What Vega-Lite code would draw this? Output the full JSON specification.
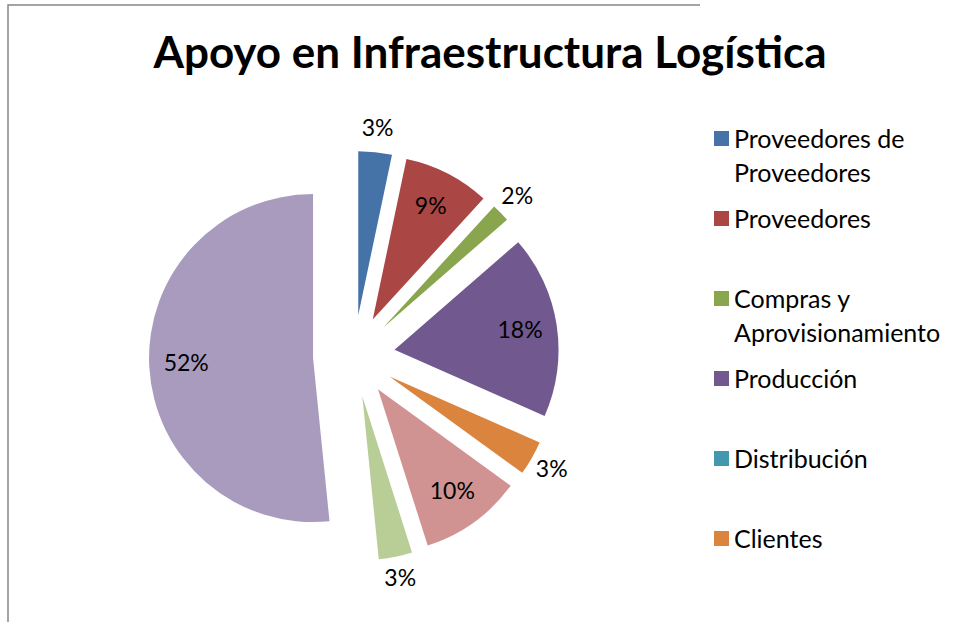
{
  "$schema": "https://vega.github.io/schema/vega-lite/v6.json",
  "autosize": "none",
  "width": 692,
  "height": 702,
  "padding": {"left": 8, "top": 5, "right": 265, "bottom": 0},
  "background": "white",
  "view": {"stroke": "#868686", "strokeWidth": 1.5, "strokeDash": [692, 1394, 720]},
  "title": {
    "text": "Apoyo en Infraestructura Logística",
    "font": "Lato",
    "fontSize": 44,
    "fontWeight": "bold",
    "color": "black",
    "anchor": "middle",
    "frame": "group",
    "dx": 136,
    "offset": -107,
    "baseline": "alphabetic"
  },
  "data": {
    "values": [
      {"categoria": "Proveedores de Proveedores", "share": 0.033},
      {"categoria": "Proveedores", "share": 0.085},
      {"categoria": "Compras y Aprovisionamiento", "share": 0.018},
      {"categoria": "Producción", "share": 0.18},
      {"categoria": "Distribución", "share": 0},
      {"categoria": "Clientes", "share": 0.034},
      {"categoria": "Categoría 7", "share": 0},
      {"categoria": "Categoría 8", "share": 0.101},
      {"categoria": "Categoría 9", "share": 0.033},
      {"categoria": "Categoría 10", "share": 0.516}
    ]
  },
  "transform": [
    {"window": [{"op": "sum", "field": "share", "as": "fin"}], "frame": [null, 0]},
    {"calculate": "datum.fin - datum.share", "as": "inicio"},
    {"calculate": "(datum.inicio + datum.fin) / 2", "as": "medio"}
  ],
  "layer": [
    {
      "mark": {
        "type": "arc",
        "outerRadius": 164,
        "xOffset": {"expr": "41 * sin(2 * PI * datum.medio)"},
        "yOffset": {"expr": "-41 * cos(2 * PI * datum.medio)"}
      },
      "encoding": {
        "theta": {"field": "inicio", "type": "quantitative", "stack": null, "scale": {"domain": [0, 1], "range": [0, 6.283185307179586]}},
        "theta2": {"field": "fin"},
        "color": {
          "field": "categoria",
          "type": "nominal",
          "scale": {
            "domain": ["Proveedores de Proveedores", "Proveedores", "Compras y Aprovisionamiento", "Producción", "Distribución", "Clientes", "Categoría 7", "Categoría 8", "Categoría 9", "Categoría 10"],
            "range": ["#4572A7", "#AA4643", "#89A54E", "#71588F", "#4198AF", "#DB843D", "#93A9CF", "#D19392", "#B9CD96", "#A99BBD"]
          },
          "legend": {
            "orient": "none",
            "legendX": 701,
            "legendY": 130,
            "title": null,
            "padding": 0,
            "values": ["Proveedores de Proveedores", "Proveedores", "Compras y Aprovisionamiento", "Producción", "Distribución", "Clientes"],
            "labelFont": "Lato",
            "labelFontSize": 25,
            "labelColor": "black",
            "labelOffset": 0,
            "labelLimit": 400,
            "labelBaseline": "alphabetic",
            "labelExpr": "datum.label == 'Proveedores de Proveedores' ? ['Proveedores de', 'Proveedores'] : datum.label == 'Compras y Aprovisionamiento' ? ['Compras y', 'Aprovisionamiento'] : [datum.label, ' ']",
            "symbolType": "M-1,-2.2H1V-0.2H-1Z",
            "symbolSize": 225,
            "symbolStrokeWidth": 0,
            "symbolOpacity": 1,
            "rowPadding": 20,
            "encode": {"labels": {"update": {"lineHeight": {"value": 34}}}}
          }
        }
      }
    },
    {
      "transform": [{"filter": "datum.share > 0"}],
      "mark": {
        "type": "text",
        "radius": {"expr": "datum.share < 0.05 ? 228 : 168"},
        "font": "Lato",
        "fontSize": 23,
        "color": "black",
        "align": "center",
        "baseline": "middle"
      },
      "encoding": {
        "theta": {"field": "medio", "type": "quantitative", "stack": null},
        "text": {"field": "share", "format": ".0%"}
      }
    }
  ]
}
